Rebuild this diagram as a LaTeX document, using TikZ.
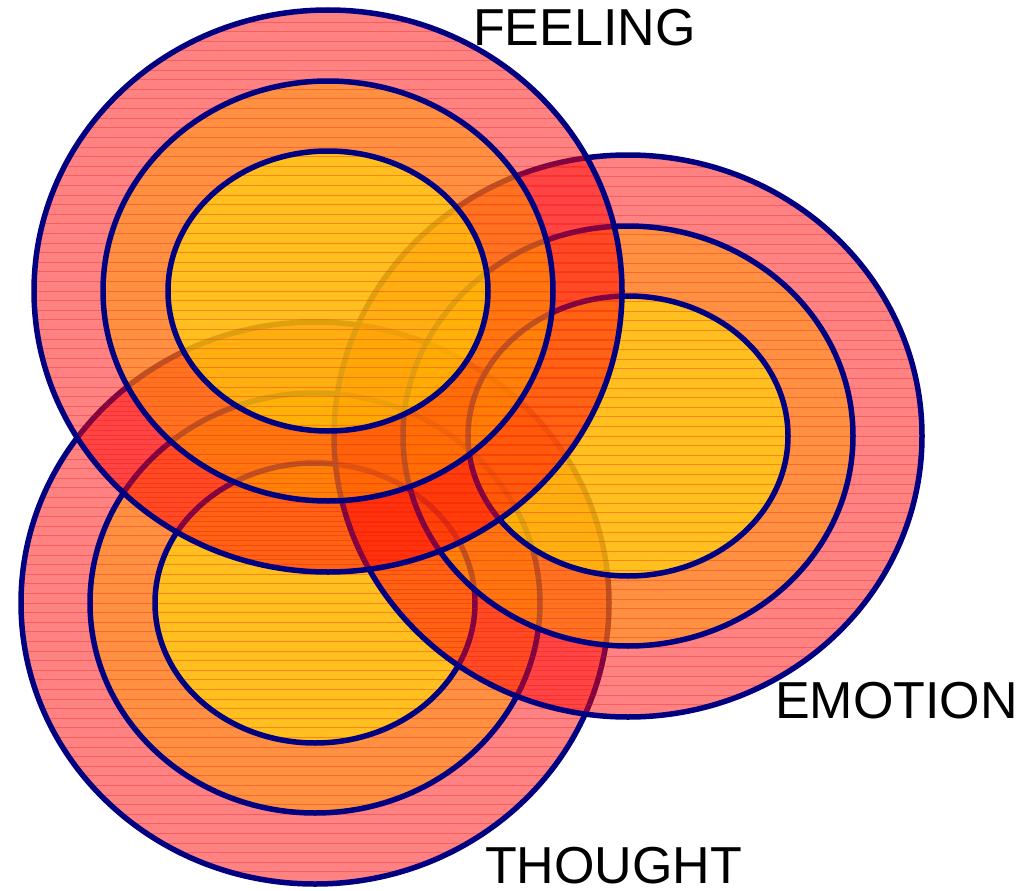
\documentclass[tikz,border=0pt]{standalone}
\usepackage{fontspec}
\setmainfont{Liberation Sans}
\definecolor{ringpink}{RGB}{255,6,6}
\definecolor{ringorange}{RGB}{255,160,0}
\definecolor{ringyellow}{RGB}{255,238,0}
\definecolor{rimnavy}{RGB}{0,0,128}
\definecolor{hatchred}{RGB}{235,10,10}
\tikzset{
  rim/.style={draw=rimnavy, line width=5.5pt},
  layer/.style={fill opacity=0.5},
  hatch/.style={draw=hatchred, line width=1pt, opacity=0.3},
  lbl/.style={anchor=base west, inner sep=0pt, font=\fontsize{52}{60}\selectfont}
}
\newcommand\ringset[2]{%
  \begin{scope}[shift={(#1,#2)}]
    \fill[ringpink, layer] (0,0) ellipse [x radius=294, y radius=281];
    \fill[ringorange, layer] (0,0) ellipse [x radius=225, y radius=210];
    \fill[ringyellow, layer] (0,0) ellipse [x radius=160, y radius=140];
    \begin{scope}
      \clip (0,0) ellipse [x radius=294, y radius=281];
      \foreach \k in {-30,...,30} {\draw[hatch] (-300,\k*9.6) -- (300,\k*9.6);}
    \end{scope}
    \draw[rim] (0,0) ellipse [x radius=294, y radius=281];
    \draw[rim] (0,0) ellipse [x radius=225, y radius=210];
    \draw[rim] (0,0) ellipse [x radius=160, y radius=140];
  \end{scope}%
}
\begin{document}
\begin{tikzpicture}[x=1pt, y=-1pt]
  \useasboundingbox (0,0) rectangle (1026,891);
  \ringset{315}{603}
  \ringset{628}{436}
  \ringset{328}{291}
  \node[lbl] (feel) at (473,46) {FEELING};
  \node[lbl] (emot) at (775,718) {EMOTION};
  \node[lbl] (thou) at (485,883) {THOUGHT};
\end{tikzpicture}
\end{document}
